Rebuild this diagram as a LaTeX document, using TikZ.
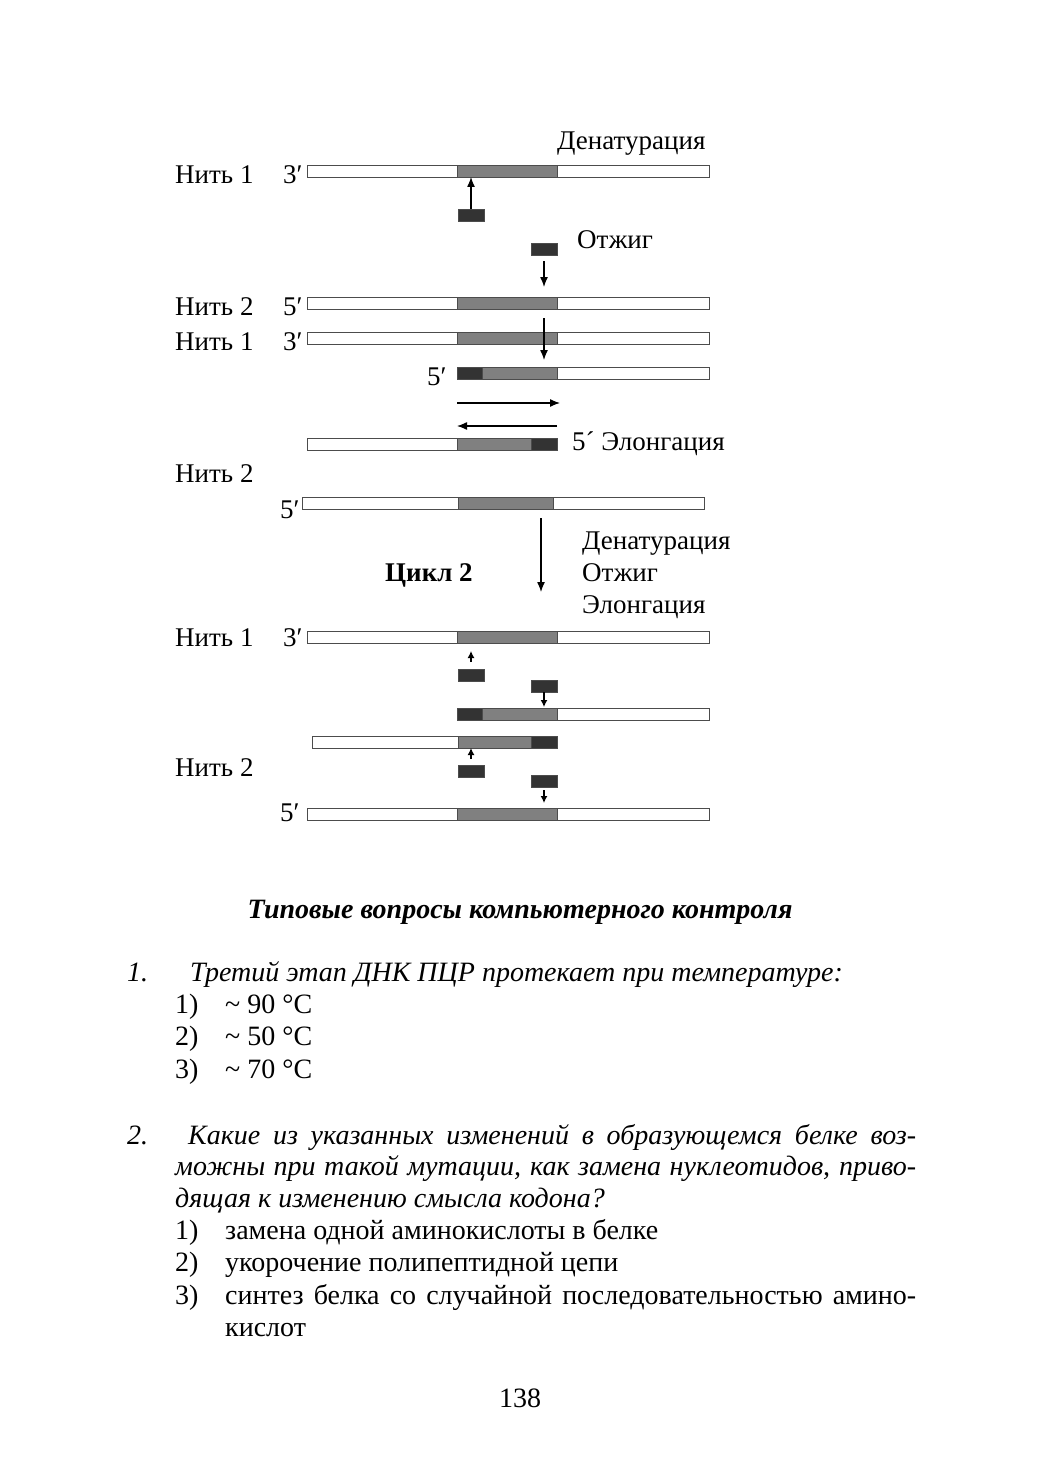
\documentclass[tikz,border=0pt]{standalone}
\usepackage{fontspec}
\setmainfont{Liberation Serif}
\usetikzlibrary{arrows.meta}

% one piece of a strand: style, name, left x, right x, middle y
\newcommand{\seg}[5]{\node[#1, minimum width={#4-#3}] (#2) at (#3,#5) {};}

\begin{document}
\begin{tikzpicture}[x=1pt, y=-1pt,
	seg/.style={draw=black!70, line width=0.9pt, minimum height=12pt, inner sep=0pt, outer sep=0pt, anchor=west},
	wseg/.style={seg, fill=white},
	gseg/.style={seg, fill=black!50},
	dseg/.style={seg, fill=black!80},
	primer/.style={dseg, minimum width=26pt, anchor=north west},
	lbl/.style={anchor=base west, inner sep=0pt, font=\fontsize{27}{32}\selectfont},
	txt/.style={anchor=base west, inner sep=0pt, font=\fontsize{28}{32}\selectfont},
	arr/.style={-{Latex[length=10pt,width=8pt]}, line width=1.3pt},
	sarr/.style={-{Latex[length=7pt,width=7pt]}, line width=1.3pt}]
	\useasboundingbox[fill=white] (0,0) rectangle (1039,1471);

	% cycle 1
	\seg{wseg}{a1}{307}{457}{171} \seg{gseg}{a2}{457}{557}{171} \seg{wseg}{a3}{557}{709}{171}
	\seg{wseg}{b1}{307}{457}{303} \seg{gseg}{b2}{457}{557}{303} \seg{wseg}{b3}{557}{709}{303}
	\seg{wseg}{c1}{307}{457}{338} \seg{gseg}{c2}{457}{557}{338} \seg{wseg}{c3}{557}{709}{338}
	\seg{dseg}{d1}{457}{482}{373} \seg{gseg}{d2}{482}{557}{373} \seg{wseg}{d3}{557}{709}{373}
	\seg{wseg}{e1}{307}{457}{444} \seg{gseg}{e2}{457}{531}{444} \seg{dseg}{e3}{531}{557}{444}
	\seg{wseg}{f1}{302}{458}{503} \seg{gseg}{f2}{458}{553}{503} \seg{wseg}{f3}{553}{704}{503}

	\node[primer] (pA) at (458,209) {};
	\node[primer] (pB) at (531,243) {};

	\draw[arr] (pA.north) -- (pA.north |- a2.south);
	\draw[arr, shorten <=6pt, shorten >=10pt] (pB.south) -- (pB.south |- b2.north);
	\coordinate (cA) at (544,318);
	\draw[arr, shorten >=7pt] (cA) -- (cA |- d2.north);
	\coordinate (rA) at (457,403);
	\coordinate (rB) at (560,403);
	\draw[arr] (rA) -- (rB);
	\coordinate (lA) at (557,426);
	\coordinate (lB) at (457,426);
	\draw[arr] (lA) -- (lB);

	\node[lbl] (den1) at (557,150) {Денатурация};
	\node[lbl] (otg1) at (577,249) {Отжиг};
	\node[lbl] (elg1) at (572,450) {5´ Элонгация};
	\node[lbl] (nA) at (175,184) {Нить 1};
	\node[lbl] (eA) at (283,184) {3′};
	\node[lbl] (nB) at (175,315) {Нить 2};
	\node[lbl] (eB) at (283,315) {5′};
	\node[lbl] (nC) at (175,350) {Нить 1};
	\node[lbl] (eC) at (283,350) {3′};
	\node[lbl] (eD) at (427,385) {5′};
	\node[lbl] (nF) at (175,482) {Нить 2};
	\node[lbl] (eF) at (280,518) {5′};

	% cycle 2
	\coordinate (kA) at (541,518);
	\coordinate (kB) at (541,592);
	\draw[arr] (kA) -- (kB);
	\node[lbl, font=\fontsize{27}{32}\selectfont\bfseries] (cyc) at (385,581) {Цикл 2};
	\node[lbl] (den2) at (582,549) {Денатурация};
	\node[lbl] (otg2) at (582,581) {Отжиг};
	\node[lbl] (elg2) at (582,613) {Элонгация};

	\seg{wseg}{g1}{307}{457}{637} \seg{gseg}{g2}{457}{557}{637} \seg{wseg}{g3}{557}{709}{637}
	\seg{dseg}{h1}{457}{482}{714} \seg{gseg}{h2}{482}{557}{714} \seg{wseg}{h3}{557}{709}{714}
	\seg{wseg}{i1}{312}{458}{742} \seg{gseg}{i2}{458}{531}{742} \seg{dseg}{i3}{531}{557}{742}
	\seg{wseg}{j1}{307}{457}{814} \seg{gseg}{j2}{457}{557}{814} \seg{wseg}{j3}{557}{709}{814}

	\node[primer] (pG) at (458,669) {};
	\node[primer] (pH) at (531,680) {};
	\node[primer] (pI) at (458,765) {};
	\node[primer] (pJ) at (531,775) {};
	\draw[sarr, shorten <=7pt, shorten >=8pt] (pG.north) -- (pG.north |- g2.south);
	\draw[sarr, shorten >=1pt] (pH.south) -- (pH.south |- h2.north);
	\draw[sarr, shorten <=6pt] (pI.north) -- (pI.north |- i2.south);
	\draw[sarr, shorten <=3pt, shorten >=5pt] (pJ.south) -- (pJ.south |- j2.north);

	\node[lbl] (nG) at (175,646) {Нить 1};
	\node[lbl] (eG) at (283,646) {3′};
	\node[lbl] (nI) at (175,776) {Нить 2};
	\node[lbl] (eJ) at (280,821) {5′};

	% questions
	\node[txt, anchor=base, font=\fontsize{28}{32}\selectfont\bfseries\itshape] (title) at (520,918) {Типовые вопросы компьютерного контроля};

	\node[txt, font=\fontsize{28}{32}\selectfont\itshape] (q1n) at (127,981) {1.};
	\node[txt, font=\fontsize{28}{32}\selectfont\itshape] (q1) at (190,981) {Третий этап ДНК ПЦР протекает при температуре:};
	\node[txt] (o11) at (175,1013) {1)};
	\node[txt] (a11) at (225,1013) {\textasciitilde\ 90 °C};
	\node[txt] (o12) at (175,1045) {2)};
	\node[txt] (a12) at (225,1045) {\textasciitilde\ 50 °C};
	\node[txt] (o13) at (175,1078) {3)};
	\node[txt] (a13) at (225,1078) {\textasciitilde\ 70 °C};

	\node[txt, font=\fontsize{28}{32}\selectfont\itshape] (q2n) at (127,1144) {2.};
	\node[txt, font=\fontsize{28}{32}\selectfont\itshape] (q2a) at (188,1144) {\makebox[728pt][s]{Какие из указанных изменений в образующемся белке воз-}};
	\node[txt, font=\fontsize{28}{32}\selectfont\itshape] (q2b) at (175,1175) {\makebox[741pt][s]{можны при такой мутации, как замена нуклеотидов, приво-}};
	\node[txt, font=\fontsize{28}{32}\selectfont\itshape] (q2c) at (175,1207) {дящая к изменению смысла кодона?};
	\node[txt] (o21) at (175,1239) {1)};
	\node[txt] (a21) at (225,1239) {замена одной аминокислоты в белке};
	\node[txt] (o22) at (175,1271) {2)};
	\node[txt] (a22) at (225,1271) {укорочение полипептидной цепи};
	\node[txt] (o23) at (175,1304) {3)};
	\node[txt] (a23) at (225,1304) {\makebox[691pt][s]{синтез белка со случайной последовательностью амино-}};
	\node[txt] (a23b) at (225,1336) {кислот};

	\node[txt, anchor=base] (page) at (520,1407) {138};
\end{tikzpicture}
\end{document}
